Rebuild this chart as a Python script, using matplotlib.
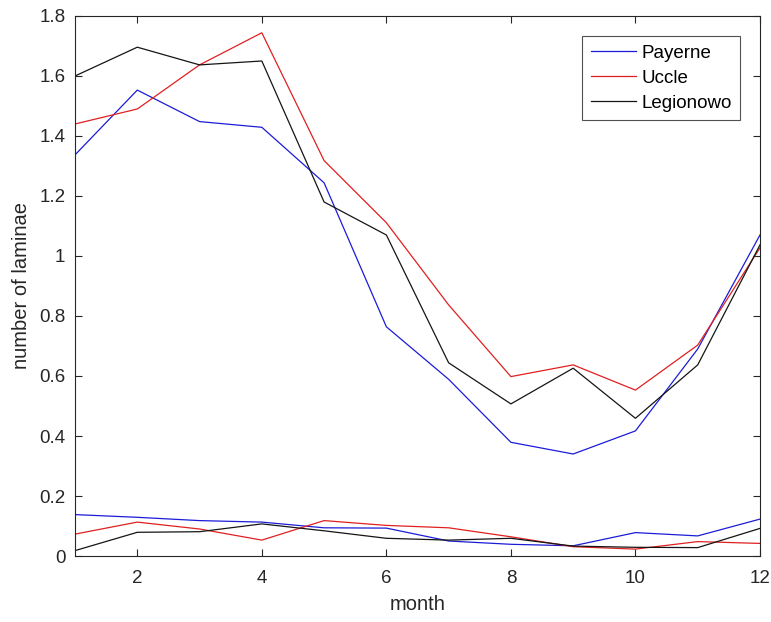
import matplotlib
matplotlib.use("Agg")
import matplotlib.pyplot as plt

# monthly means, upper curves and lower curves per station
months = [1, 2, 3, 4, 5, 6, 7, 8, 9, 10, 11, 12]

payerne_hi = [1.337, 1.553, 1.448, 1.429, 1.244, 0.764, 0.589, 0.379, 0.340, 0.417, 0.690, 1.070]
uccle_hi = [1.440, 1.490, 1.637, 1.744, 1.318, 1.111, 0.837, 0.598, 0.637, 0.553, 0.703, 1.027]
legionowo_hi = [1.600, 1.696, 1.637, 1.650, 1.180, 1.070, 0.644, 0.507, 0.626, 0.459, 0.637, 1.037]

payerne_lo = [0.138, 0.129, 0.118, 0.113, 0.094, 0.093, 0.050, 0.039, 0.034, 0.078, 0.067, 0.123]
uccle_lo = [0.073, 0.113, 0.090, 0.053, 0.118, 0.102, 0.094, 0.064, 0.031, 0.023, 0.048, 0.042]
legionowo_lo = [0.018, 0.079, 0.081, 0.107, 0.084, 0.059, 0.053, 0.059, 0.033, 0.029, 0.028, 0.092]

station_names = ['Payerne', 'Uccle', 'Legionowo']
x_ticks = [2, 4, 6, 8, 10, 12]
y_ticks = [0, 0.2, 0.4, 0.6, 0.8, 1.0, 1.2, 1.4, 1.6, 1.8]
y_tick_labels = ['0', '0.2', '0.4', '0.6', '0.8', '1', '1.2', '1.4', '1.6', '1.8']

plt.rcParams['font.family'] = ['Liberation Sans', 'DejaVu Sans']
text_col = '#262626'

fig = plt.figure(figsize=(7.71, 6.22), dpi=100)
ax = fig.add_axes([0.0973, 0.1061, 0.8884, 0.8682])

lw = 0.9
blue, red, black = '#1c1cd8', '#e02020', '#151515'
ax.plot(months, payerne_hi, color=blue, lw=lw, label=station_names[0])
ax.plot(months, uccle_hi, color=red, lw=lw, label=station_names[1])
ax.plot(months, legionowo_hi, color=black, lw=lw, label=station_names[2])
ax.plot(months, payerne_lo, color=blue, lw=lw)
ax.plot(months, uccle_lo, color=red, lw=lw)
ax.plot(months, legionowo_lo, color=black, lw=lw)

ax.set_xlim(1, 12)
ax.set_ylim(0, 1.8)
ax.set_xticks(x_ticks)
ax.set_yticks(y_ticks)
ax.set_yticklabels(y_tick_labels)

ax.tick_params(direction='in', top=True, right=True, length=5, width=0.8,
               colors=text_col, labelsize=13.5)
ax.tick_params(axis='x', pad=10)
ax.tick_params(axis='y', pad=7)
for sp in ax.spines.values():
    sp.set_color(text_col)
    sp.set_linewidth(0.8)

ax.set_xlabel('month', fontsize=14.5, color=text_col, labelpad=6)
ax.set_ylabel('number of laminae', fontsize=14.5, color=text_col, labelpad=6)

leg = ax.legend(loc='upper right', bbox_to_anchor=(0.971, 0.963), fontsize=13.5,
                frameon=True, fancybox=False, edgecolor=text_col,
                handlelength=2.4, handletextpad=0.3, labelspacing=0.42,
                borderpad=0.45, borderaxespad=0)
leg.get_frame().set_linewidth(0.8)

fig.savefig('out.png', dpi=100)
